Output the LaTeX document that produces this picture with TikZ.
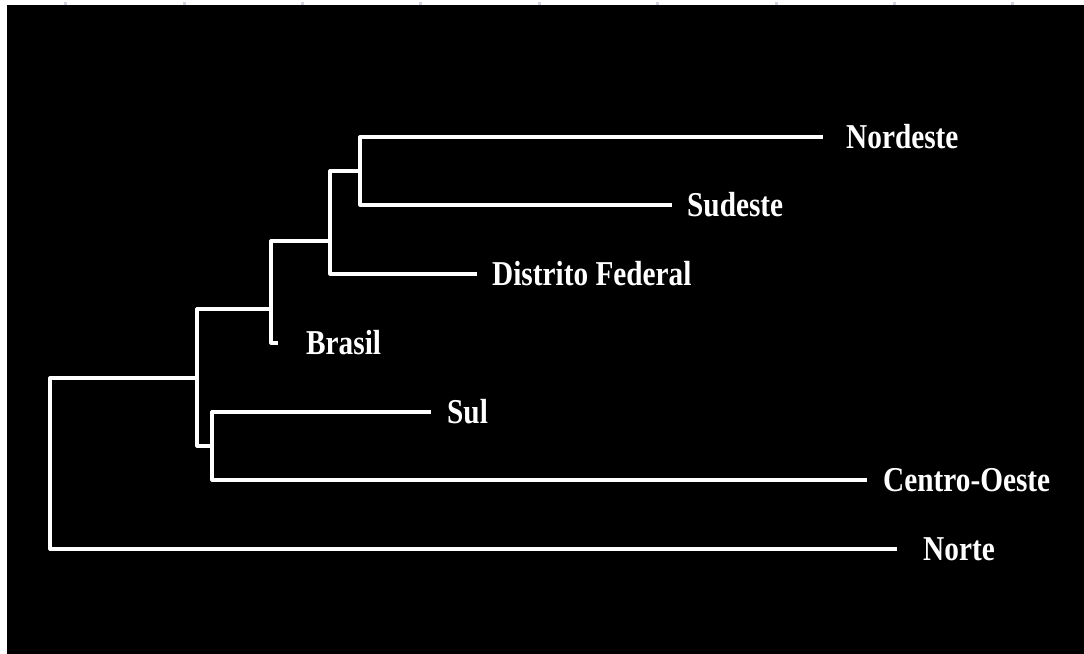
\documentclass[tikz,border=0pt]{standalone}
\usepackage{fontspec}
\setmainfont{Liberation Serif}[FakeStretch=0.84]
\usepackage{tikz}
\usetikzlibrary{positioning}
\tikzset{
  branch/.style={draw=white, line width=3.2bp, line join=round},
  leaf/.style={anchor=west, inner sep=0pt, text=white,
    font=\fontsize{35}{40}\selectfont\bfseries},
}

\begin{document}
\begin{tikzpicture}[x=1bp, y=-1bp]

  % Frame
  \useasboundingbox (0,0) rectangle (1084,654);
  \fill[white] (0,0) rectangle (1084,654);
  \fill[black] (7,5) rectangle (1084,654);
  \foreach \k in {0,...,8}
    \fill[blue!15!gray!30] (64.2+118.4*\k,2) rectangle (67.2+118.4*\k,5);

  % Branch points
  \coordinate (d) at (360,171);
  \coordinate (c) at (330,241);
  \coordinate (b) at (271,309);
  \coordinate (e) at (212,446);
  \coordinate (a) at (197,378);
  \coordinate (r) at (50,463);

  % Leaf ends
  \coordinate (nordE)  at (823,137);
  \coordinate (sudE)   at (672,205);
  \coordinate (dfE)    at (477,274);
  \coordinate (brE)    at (278,343);
  \coordinate (sulE)   at (431,412);
  \coordinate (coE)    at (867,480);
  \coordinate (norteE) at (897,549);

  % Labels
  \node[leaf, right=23bp of nordE]  (nord)  {Nordeste};
  \node[leaf, right=15bp of sudE]   (sud)   {Sudeste};
  \node[leaf, right=15bp of dfE]    (df)    {Distrito Federal};
  \node[leaf, right=28bp of brE]    (br)    {Brasil};
  \node[leaf, right=16bp of sulE]   (sul)   {Sul};
  \node[leaf, right=16bp of coE]    (co)    {Centro-Oeste};
  \node[leaf, right=26bp of norteE] (norte) {Norte};

  % Edges
  \draw[branch] (nordE) -| (d) |- (sudE);
  \draw[branch] (d) -| (c) |- (dfE);
  \draw[branch] (c) -| (b) |- (brE);
  \draw[branch] (sulE) -| (e) |- (coE);
  \draw[branch] (b) -| (a) |- (e);
  \draw[branch] (a) -| (r) |- (norteE);

\end{tikzpicture}
\end{document}
